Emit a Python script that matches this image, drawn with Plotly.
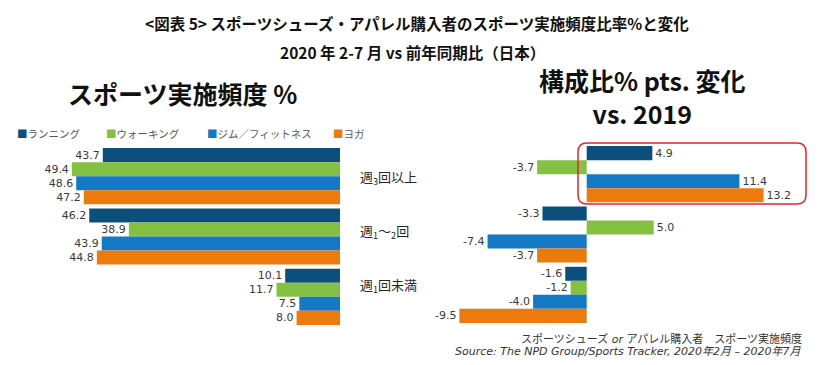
import plotly.graph_objects as go

categories = ["週<sub>3</sub>回以上", "週<sub>1</sub>～<sub>2</sub>回", "週<sub>1</sub>回未満"]
series_names = ["ランニング", "ウォーキング", "ジム／フィットネス", "ヨガ"]
colors = ["#0d4f7c", "#84c143", "#1479c4", "#ec7a0c"]

share_running = [43.7, 46.2, 10.1]
share_walking = [49.4, 38.9, 11.7]
share_gym = [48.6, 43.9, 7.5]
share_yoga = [47.2, 44.8, 8.0]

chg_running = [4.9, -3.3, -1.6]
chg_walking = [-3.7, 5.0, -1.2]
chg_gym = [11.4, -7.4, -4.0]
chg_yoga = [13.2, -3.7, -9.5]

shares = [share_running, share_walking, share_gym, share_yoga]
changes = [chg_running, chg_walking, chg_gym, chg_yoga]

# page has an 8px body margin: size the figure so it fits the 834x365 window
OFF = 8
W, H = 834 - 2 * OFF, 365 - 2 * OFF
FONT = "DejaVu Sans, Noto Sans CJK JP, sans-serif"
JP = "Noto Sans CJK JP, sans-serif"


def px(x):
    return (x - OFF) / W


def py(y):
    return 1 - (y - OFF) / H


fig = go.Figure()
for name, col, vals in zip(series_names, colors, shares):
    fig.add_trace(go.Bar(
        y=categories, x=vals, orientation="h", name=name,
        marker=dict(color=col, line=dict(width=0)),
        text=[f"{v:.1f}" for v in vals], textposition="outside",
        textfont=dict(size=11, color="#3a3a3a", family=FONT),
        constraintext="none", cliponaxis=False,
        xaxis="x", yaxis="y", showlegend=False,
    ))
for name, col, vals in zip(series_names, colors, changes):
    fig.add_trace(go.Bar(
        y=categories, x=vals, orientation="h", name=name,
        marker=dict(color=col, line=dict(width=0)),
        text=[f"{v:.1f}" for v in vals], textposition="outside",
        textfont=dict(size=11, color="#3a3a3a", family=FONT),
        constraintext="none", cliponaxis=False,
        xaxis="x2", yaxis="y2", showlegend=False,
    ))

annotations = [
    dict(text="<b>&lt;図表 5&gt; スポーツシューズ・アパレル購入者のスポーツ実施頻度比率%と変化</b>",
         x=px(417), y=py(23), font=dict(size=15.5, color="#111111", family=JP)),
    dict(text="<b>2020 年 2-7 月 vs 前年同期比（日本）</b>",
         x=px(412), y=py(52), font=dict(size=15.5, color="#111111", family=JP)),
    dict(text="<b>スポーツ実施頻度 %</b>",
         x=px(182), y=py(93), font=dict(size=25, color="#111111", family=JP)),
    dict(text="<b>構成比% pts. 変化<br>vs. 2019</b>",
         x=px(642), y=py(97), align="center",
         font=dict(size=25, color="#111111", family=JP)),
    dict(text="スポーツシューズ <i>or</i> アパレル購入者　スポーツ実施頻度",
         x=px(804), y=py(339), xanchor="right",
         font=dict(size=11, color="#333333", family=FONT)),
    dict(text="<i>Source: The NPD Group/Sports Tracker, 2020年2月 – 2020年7月</i>",
         x=px(804), y=py(351), xanchor="right",
         font=dict(size=11, color="#333333", family=FONT)),
]
legend_x = [15, 104, 205, 331]
for lx, name, col in zip(legend_x, series_names, colors):
    annotations.append(dict(
        text=f"<span style='color:{col}'>■</span>{name}",
        x=px(lx), y=py(134), xanchor="left",
        font=dict(size=10.5, color="#595959", family=JP)))
for a in annotations:
    a.setdefault("xanchor", "center")
    a.update(xref="paper", yref="paper", yanchor="middle", showarrow=False)

# category labels to the right of the share chart
label_shift = [-1, 5, 11]
for cat, sh in zip(categories, label_shift):
    annotations.append(dict(
        text=cat, x=px(358), xref="paper", xanchor="left",
        y=cat, yref="y", yanchor="middle", yshift=sh, showarrow=False,
        font=dict(size=13, color="#262626", family=JP)))

# rounded red frame around the top group of the change chart
x0, x1, y0, y1, r = px(578), px(806), py(204), py(143), 9
rx, ry = r / W, r / H
path = (f"M{x0+rx},{y1} L{x1-rx},{y1} Q{x1},{y1} {x1},{y1-ry} "
        f"L{x1},{y0+ry} Q{x1},{y0} {x1-rx},{y0} L{x0+rx},{y0} "
        f"Q{x0},{y0} {x0},{y0+ry} L{x0},{y1-ry} Q{x0},{y1} {x0+rx},{y1} Z")

fig.update_layout(
    width=W, height=H, margin=dict(l=0, r=0, t=0, b=0),
    paper_bgcolor="white", plot_bgcolor="white",
    barmode="group", bargap=0.07, bargroupgap=0,
    font=dict(family=FONT),
    annotations=annotations,
    shapes=[dict(type="path", path=path, xref="paper", yref="paper",
                 line=dict(color="#e0262a", width=1.5))],
    xaxis=dict(domain=[px(10), px(340)], range=[60.8, 0], visible=False),
    yaxis=dict(domain=[py(327), py(146)], autorange="reversed", anchor="x",
               showline=False, showgrid=False, ticks="", showticklabels=False),
    xaxis2=dict(domain=[px(440), px(800)], range=[-10.95, 15.92], visible=False,
                anchor="y2"),
    yaxis2=dict(domain=[py(325), py(144)], autorange="reversed", anchor="x2",
                visible=False),
)

fig.write_html("out.html")
